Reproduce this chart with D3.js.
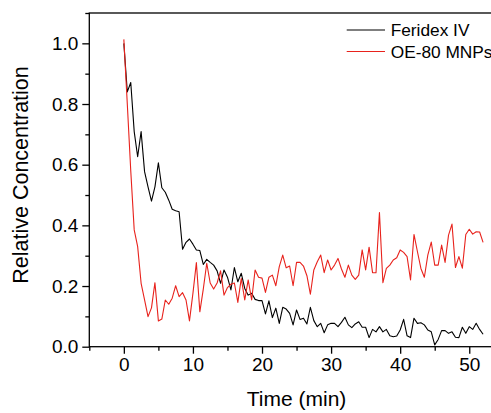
<!DOCTYPE html>
<html>
<head>
<meta charset="utf-8">
<script src="https://cdn.jsdelivr.net/npm/d3@7"></script>
<style>
  html, body { margin: 0; padding: 0; background: #fff; }
  svg { display: block; font-family: "Liberation Sans", Arial, sans-serif; }
</style>
</head>
<body>
<svg id="chart" width="491" height="413"></svg>
<script>
// ---- data ----
const times = [
  0, 0.5, 1, 1.5, 2, 2.5, 3, 3.5, 4, 4.5,
  5, 5.5, 6, 6.5, 7, 7.5, 8, 8.5, 9, 9.5,
  10, 10.5, 11, 11.5, 12, 12.5, 13, 13.5, 14, 14.5,
  15, 15.5, 16, 16.5, 17, 17.5, 18, 18.5, 19, 19.5,
  20, 20.5, 21, 21.5, 22, 22.5, 23, 23.5, 24, 24.5,
  25, 25.5, 26, 26.5, 27, 27.5, 28, 28.5, 29, 29.5,
  30, 30.5, 31, 31.5, 32, 32.5, 33, 33.5, 34, 34.5,
  35, 35.5, 36, 36.5, 37, 37.5, 38, 38.5, 39, 39.5,
  40, 40.5, 41, 41.5, 42, 42.5, 43, 43.5, 44, 44.5,
  45, 45.5, 46, 46.5, 47, 47.5, 48, 48.5, 49, 49.5,
  50, 50.5, 51, 51.5, 52
];
const feridex = [
  1.00, 0.84, 0.871, 0.709, 0.626, 0.709, 0.577, 0.527, 0.48, 0.527,
  0.606, 0.524, 0.509, 0.483, 0.453, 0.448, 0.445, 0.321, 0.344, 0.355,
  0.338, 0.319, 0.317, 0.271, 0.288, 0.278, 0.269, 0.25, 0.209, 0.253,
  0.229, 0.187, 0.261, 0.214, 0.242, 0.192, 0.17, 0.176, 0.156, 0.152,
  0.152, 0.108, 0.151, 0.096, 0.127, 0.077, 0.13, 0.124, 0.11, 0.072,
  0.121, 0.09, 0.094, 0.075, 0.13, 0.086, 0.066, 0.077, 0.046, 0.072,
  0.077, 0.077, 0.066, 0.08, 0.097, 0.072, 0.063, 0.075, 0.082, 0.064,
  0.064, 0.03, 0.057, 0.049, 0.066, 0.049, 0.057, 0.036, 0.033, 0.035,
  0.055, 0.09, 0.036, 0.03, 0.094, 0.077, 0.079, 0.072, 0.055, 0.049,
  0.006, 0.024, 0.053, 0.053, 0.044, 0.049, 0.031, 0.03, 0.064, 0.044,
  0.066, 0.057, 0.077, 0.057, 0.041
];
const oe80 = [
  1.013, 0.80, 0.58, 0.385, 0.33, 0.209, 0.154, 0.099, 0.128, 0.211,
  0.085, 0.091, 0.154, 0.14, 0.16, 0.201, 0.165, 0.178, 0.154, 0.085,
  0.176, 0.277, 0.115, 0.19, 0.275, 0.21, 0.19, 0.21, 0.25, 0.17,
  0.195, 0.206, 0.21, 0.146, 0.225, 0.154, 0.22, 0.154, 0.253, 0.229,
  0.226, 0.179, 0.229, 0.236, 0.201, 0.264, 0.302, 0.26, 0.266, 0.201,
  0.278, 0.278, 0.266, 0.234, 0.173, 0.253, 0.28, 0.302, 0.244, 0.286,
  0.253, 0.269, 0.291, 0.256, 0.229, 0.269, 0.236, 0.222, 0.236, 0.319,
  0.253, 0.328, 0.244, 0.244, 0.442, 0.211, 0.258, 0.269, 0.286, 0.293,
  0.319, 0.311, 0.297, 0.22, 0.37, 0.313, 0.258, 0.229, 0.302, 0.345,
  0.269, 0.269, 0.335, 0.278, 0.368, 0.404, 0.261, 0.297, 0.259, 0.37,
  0.387, 0.371, 0.379, 0.378, 0.344
];
const seriesNames = ["Feridex IV", "OE-80 MNPs"];
const xMajorTicks = [0, 10, 20, 30, 40, 50];
const xMinorTicks = [-5, 5, 15, 25, 35, 45, 55];
const yMajorTicks = [0, 0.2, 0.4, 0.6, 0.8, 1.0];
const yMinorTicks = [0.1, 0.3, 0.5, 0.7, 0.9, 1.1];
const xTitle = "Time (min)";
const yTitle = "Relative Concentration";

// ---- layout ----
const svg = d3.select("#chart");
const pLeft = 89.3, pRight = 503.8, pTop = 13, pBottom = 346.7;
const x = d3.scaleLinear().domain([-5, 55]).range([pLeft, pRight]);
const y = d3.scaleLinear().domain([0, 1.1]).range([pBottom, pTop]);
const colors = ["#000000", "#e8221c"];
const fontFamily = '"Liberation Sans", Arial, sans-serif';

// data lines
const data = [feridex, oe80];
const line = d3.line()
  .x((d, i) => x(times[i]))
  .y(d => y(d));
data.forEach((vals, k) => {
  svg.append("path")
    .datum(vals)
    .attr("fill", "none")
    .attr("stroke", colors[k])
    .attr("stroke-width", 1.1)
    .attr("stroke-linejoin", "round")
    .attr("d", line);
});

// frame
svg.append("rect")
  .attr("x", pLeft).attr("y", pTop)
  .attr("width", pRight - pLeft).attr("height", pBottom - pTop)
  .attr("fill", "none").attr("stroke", "#000").attr("stroke-width", 1.3);

// x axis
const gx = svg.append("g").attr("transform", `translate(0,${pBottom})`);
gx.call(d3.axisBottom(x).tickValues(xMajorTicks).tickSize(7).tickSizeOuter(0).tickFormat(d3.format("d")));
gx.select(".domain").remove();
gx.selectAll(".tick line").attr("stroke-width", 1.3);
gx.selectAll(".tick text").attr("font-size", 19).attr("font-family", fontFamily)
  .attr("fill", "#000").attr("y", 11).attr("dy", "0.71em");
const gxm = svg.append("g").attr("transform", `translate(0,${pBottom})`);
gxm.call(d3.axisBottom(x).tickValues(xMinorTicks).tickSize(4).tickSizeOuter(0).tickFormat(""));
gxm.select(".domain").remove();
gxm.selectAll(".tick line").attr("stroke-width", 1.3);

// y axis
const gy = svg.append("g").attr("transform", `translate(${pLeft},0)`);
gy.call(d3.axisLeft(y).tickValues(yMajorTicks).tickSize(7).tickSizeOuter(0).tickFormat(d3.format(".1f")));
gy.select(".domain").remove();
gy.selectAll(".tick line").attr("stroke-width", 1.3);
gy.selectAll(".tick text").attr("font-size", 19).attr("font-family", fontFamily)
  .attr("fill", "#000").attr("x", -11);
const gym = svg.append("g").attr("transform", `translate(${pLeft},0)`);
gym.call(d3.axisLeft(y).tickValues(yMinorTicks).tickSize(4).tickSizeOuter(0).tickFormat(""));
gym.select(".domain").remove();
gym.selectAll(".tick line").attr("stroke-width", 1.3);

// titles
svg.append("text")
  .attr("x", (pLeft + pRight) / 2).attr("y", 406)
  .attr("text-anchor", "middle")
  .attr("font-size", 21).attr("font-family", fontFamily)
  .text(xTitle);
svg.append("text")
  .attr("transform", `translate(28,175) rotate(-90)`)
  .attr("text-anchor", "middle")
  .attr("font-size", 21.5).attr("font-family", fontFamily)
  .text(yTitle);

// legend
const legY = [30, 51.5];
seriesNames.forEach((name, k) => {
  svg.append("line")
    .attr("x1", 346.7).attr("x2", 385)
    .attr("y1", legY[k]).attr("y2", legY[k])
    .attr("stroke", colors[k]).attr("stroke-width", 1.1);
  svg.append("text")
    .attr("x", 390.7).attr("y", legY[k] + 6)
    .attr("font-size", 17.3).attr("font-family", fontFamily)
    .attr("fill", "#000")
    .text(name);
});
</script>
</body>
</html>
